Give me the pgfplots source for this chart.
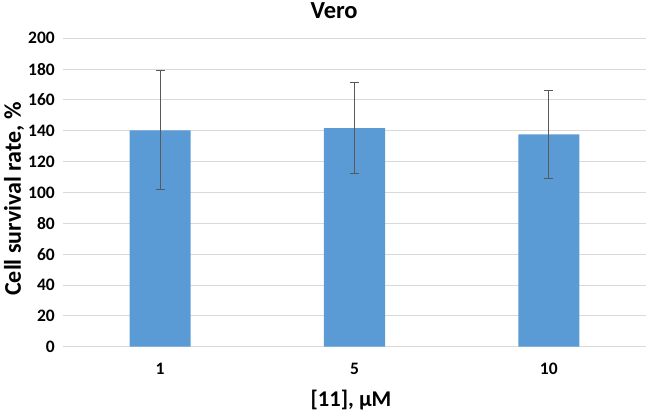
\documentclass[border=0pt]{standalone}
\usepackage{fontspec}
\setmainfont{Carlito}
\usepackage{pgfplots}
\pgfplotsset{compat=1.18}
\definecolor{barblue}{HTML}{5B9BD5}
\definecolor{gridgray}{HTML}{D9D9D9}
\definecolor{errgray}{HTML}{595959}
\begin{document}
\begin{tikzpicture}
\useasboundingbox (-63bp,-64.3bp) rectangle (583bp,346.7bp);
\begin{axis}[
  at={(0,0)}, anchor=south west,
  scale only axis, width=583bp, height=308.4bp,
  xmin=-0.5, xmax=2.5, ymin=0, ymax=200,
  ytick={0,20,...,200},
  xtick={0,1,2}, xticklabels={1,5,10},
  axis line style={draw=none},
  major tick length=0pt,
  ymajorgrids,
  major grid style={gridgray, line width=1bp},
  ticklabel style={font=\bfseries\fontsize{17.5bp}{20bp}\selectfont},
  yticklabel style={anchor=east, inner sep=0pt, xshift=-8bp},
  xticklabel style={anchor=base, inner sep=0pt, yshift=-28bp},
  /pgf/number format/assume math mode=true,
  title={Vero},
  title style={at={(axis description cs:0.465,1)}, anchor=base, yshift=14bp, inner sep=0pt, font=\bfseries\fontsize{24.5bp}{28bp}\selectfont},
  xlabel={[11], μM},
  ylabel={Cell survival rate, \%},
  every axis x label/.style={at={(axis description cs:0.494,-0.1946)}, anchor=base, inner sep=0pt, font=\bfseries\fontsize{22.5bp}{26bp}\selectfont},
  every axis y label/.style={at={(axis description cs:-0.084,0.479)}, rotate=90, anchor=center, inner sep=0pt, font=\bfseries\fontsize{24bp}{28bp}\selectfont},
]
\addplot[ybar, bar width=0.314, fill=barblue, draw=none,
  error bars/.cd, y dir=both, y explicit,
  error bar style={errgray, line width=1.2bp},
  error mark options={rotate=90, errgray, line width=1.2bp, mark size=4.5bp}]
  coordinates {
    (0,140.3) +- (0,38.6)
    (1,141.8) +- (0,29.4)
    (2,137.7) +- (0,28.7)
  };
\end{axis}
\end{tikzpicture}
\end{document}
